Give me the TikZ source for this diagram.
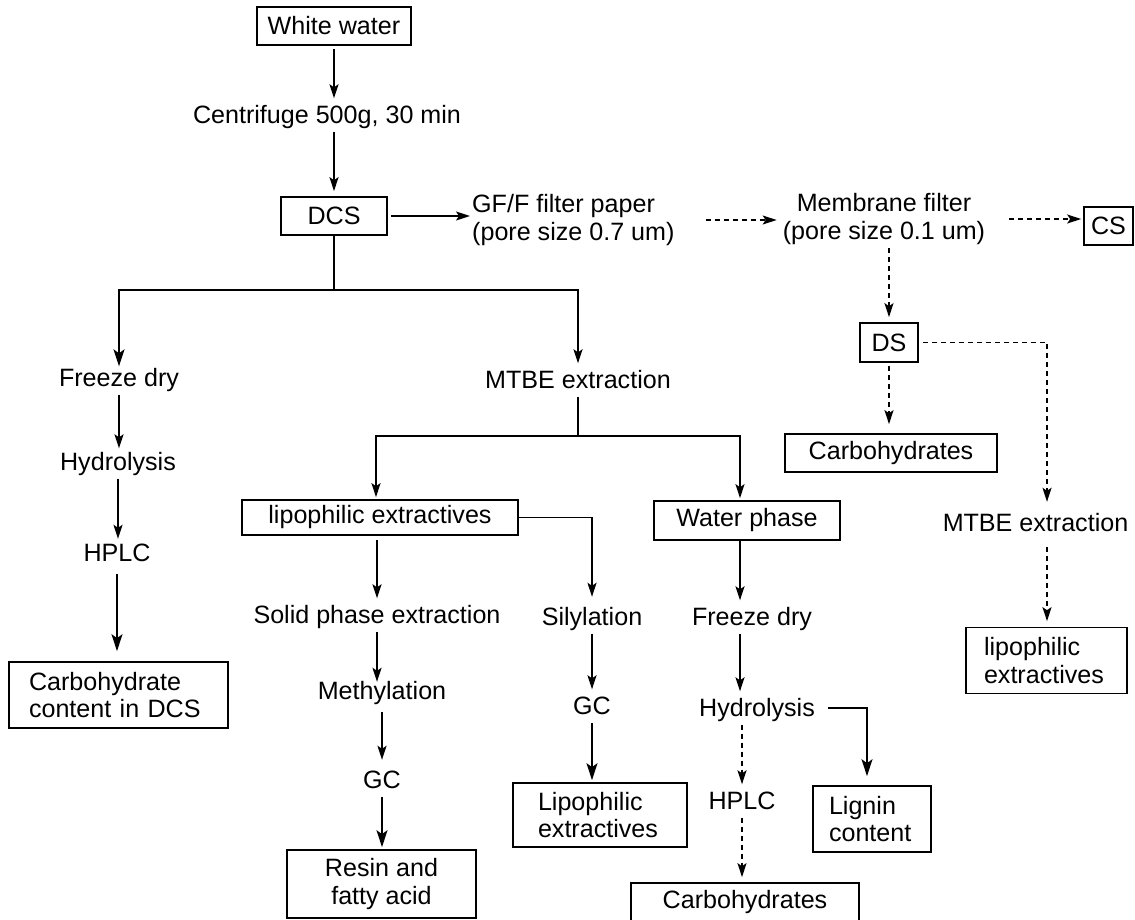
\documentclass[tikz,border=0pt]{standalone}
\usepackage{fontspec}
\setmainfont{Liberation Sans}
\usetikzlibrary{arrows.meta}
\newcommand\dfont{\fontsize{25.1pt}{27.5pt}\selectfont}
\begin{document}
\begin{tikzpicture}[x=1pt,y=-1pt,
  every node/.style={font=\dfont},
  lbl/.style={inner sep=0pt, text height=25pt, text depth=8pt},
  box/.style={draw, line width=1.7pt, inner sep=0pt, align=center},
  lbox/.style={draw, line width=1.7pt, inner ysep=0pt, align=left},
  conn/.style={line width=1.6pt},
  arr/.style={conn, -{Stealth[length=14pt,width=9pt,inset=3pt]}},
  bigarr/.style={conn, -{Stealth[length=17pt,width=11pt,inset=4pt]}},
  darr/.style={arr, dash pattern=on 5pt off 4pt},
  dline/.style={conn, dash pattern=on 5pt off 4pt}]
\useasboundingbox (0,0) rectangle (1135,919);

% top spine
\node[box, minimum width=154pt, minimum height=38pt] (ww) at (334,26) {White water};
\node[lbl] (cf) at (327,115) {Centrifuge 500g, 30 min};
\node[box, minimum width=106pt, minimum height=38pt] (dcs) at (334,216) {DCS};
\node[inner sep=0pt, align=left, anchor=west] (gf) at (472,220) {GF/F filter paper\\(pore size 0.7 um)};
\node[inner sep=0pt, align=center] (mem) at (884,219) {Membrane filter\\(pore size 0.1 um)};
\node[box, minimum width=49pt, minimum height=38pt] (cs) at (1108.5,226) {CS};

% right branch
\node[box, minimum width=58pt, minimum height=39pt] (ds) at (889,342.5) {DS};
\node[box, minimum width=212pt, minimum height=38pt] (carbT) at (891,453) {Carbohydrates};
\node[lbl] (mtbeR) at (1035.5,523) {MTBE extraction};
\coordinate (dsx) at (1047,342.5);
\node[lbox, inner xsep=18pt, text width=125pt, minimum height=66pt] (lipR) at (1046.5,660.5) {lipophilic\\extractives};

% left branch
\coordinate (s1) at (334,290);
\node[lbl] (fd1) at (119,378) {Freeze dry};
\node[lbl] (hy1) at (118,462) {Hydrolysis};
\node[lbl] (hp1) at (117,553) {HPLC};
\node[lbox, inner xsep=20pt, text width=179pt, minimum height=66pt] (ccb) at (118.5,695) {Carbohydrate\\content in DCS};

% middle branch
\node[lbl] (mtbeM) at (578,380) {MTBE extraction};
\coordinate (s2) at (578,436);
\node[box, minimum width=276pt, minimum height=35pt] (lipL) at (380,517.5) {lipophilic extractives};
\node[box, minimum width=186pt, minimum height=39pt] (wp) at (747,520.5) {Water phase};
\node[lbl] (spe) at (377,615) {Solid phase extraction};
\node[lbl] (meth) at (382,691) {Methylation};
\node[lbl] (gc1) at (382,780) {GC};
\node[box, minimum width=189pt, minimum height=68pt] (rfa) at (381.5,884) {Resin and\\fatty acid};
\node[lbl] (sil) at (592,617) {Silylation};
\node[lbl] (gc2) at (592,706) {GC};
\node[lbox, inner xsep=25pt, text width=124pt, minimum height=64pt] (lipS) at (600,815) {Lipophilic\\extractives};
\node[lbl] (fd2) at (752,617) {Freeze dry};
\node[lbl] (hy2) at (757,708) {Hydrolysis};
\node[lbl] (hp2) at (742,801) {HPLC};
\node[box, minimum width=228pt, minimum height=38pt] (carbB) at (745,902) {Carbohydrates};
\node[lbox, inner xsep=16pt, text width=86pt, minimum height=66pt] (lig) at (872,819) {Lignin\\content};

% connectors: top
\draw[arr, shorten <=3pt] (ww.south) -- (ww.south |- cf.north);
\draw[arr, shorten >=5pt] (dcs.north |- cf.south) -- (dcs.north);
\draw[arr, shorten <=3pt, shorten >=2pt] (dcs.east) -- (dcs.east -| gf.west);
\draw[darr, shorten <=31pt, shorten >=6pt] (gf.east) -- (gf.east -| mem.west);
\draw[darr, shorten <=24pt, shorten >=2pt] (mem.east) -- (mem.east -| cs.west);
\draw[darr, shorten <=3.5pt, shorten >=5pt] (ds.north |- mem.south) -- (ds.north);

% right branch
\draw[darr, shorten <=3pt, shorten >=9pt] (ds.south) -- (ds.south |- carbT.north);
\draw[darr, shorten <=4pt, shorten >=4.5pt] (ds.east) -- (dsx) -- (dsx |- mtbeR.north);
\draw[darr, shorten <=7.5pt, shorten >=5.5pt] (dsx |- mtbeR.south) -- (dsx |- lipR.north);

% left branch
\draw[conn] (dcs.south) -- (s1);
\draw[bigarr, shorten >=-5pt] (s1) -| (fd1.north);
\draw[arr] (s1) -| (mtbeM.north);
\draw[arr, shorten >=-3pt] (fd1.south) -- (fd1.south |- hy1.north);
\draw[arr, shorten >=-2.5pt] (hy1.south) -- (hy1.south |- hp1.north);
\draw[bigarr, shorten <=4.5pt, shorten >=10pt] (hp1.south) -- (hp1.south |- ccb.north);

% middle branch
\draw[conn] (mtbeM.south) -- (s2);
\draw[arr, shorten >=2pt] (s2) -| ([xshift=-4pt]lipL.north);
\draw[arr, shorten >=2pt] (s2) -| ([xshift=-7pt]wp.north);
\draw[arr, shorten <=4pt] (spe.north |- lipL.south) -- (spe.north);
\draw[arr, shorten >=3.5pt] (lipL.east) -| (sil.north);
\draw[arr, shorten >=-7.5pt] (spe.south) -- (spe.south |- meth.north);
\draw[arr, shorten <=4.5pt, shorten >=3.5pt] (meth.south) -- (meth.south |- gc1.north);
\draw[bigarr, shorten >=2pt] (gc1.south) -- (gc1.south |- rfa.north);
\draw[arr] (sil.south) -- (sil.south |- gc2.north);
\draw[bigarr, shorten >=2pt] (gc2.south) -- (gc2.south |- lipS.north);
\draw[arr] ([xshift=-7pt]wp.south) -- ([xshift=-7pt]wp.south |- fd2.north);
\draw[arr] ([xshift=-7pt]wp.south |- fd2.south) -- ([xshift=-7pt]wp.south |- hy2.north);
\draw[darr] (hp2.north |- hy2.south) -- (hp2.north);
\draw[darr, shorten >=5pt] (hp2.south) -- (hp2.south |- carbB.north);
\draw[bigarr, shorten <=13pt, shorten >=9pt] (hy2.east) -| ([xshift=-5pt]lig.north);
\end{tikzpicture}
\end{document}
